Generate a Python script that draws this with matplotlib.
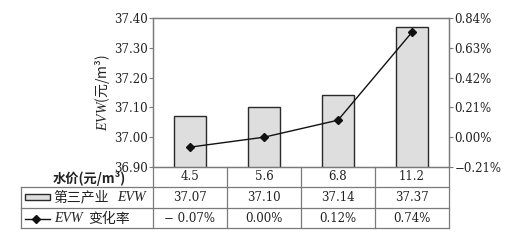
import matplotlib
matplotlib.use("Agg")
import matplotlib.pyplot as plt
from matplotlib.patches import Rectangle
from matplotlib.lines import Line2D
from matplotlib.ticker import FixedLocator, FuncFormatter

# ---- data ----
prices = ["4.5", "5.6", "6.8", "11.2"]
evw = [37.07, 37.10, 37.14, 37.37]
rate = [-0.07, 0.00, 0.12, 0.74]
left_ticks = [36.90, 37.00, 37.10, 37.20, 37.30, 37.40]
right_ticks = [-0.21, 0.00, 0.21, 0.42, 0.63, 0.84]
row_header = "水价(元/m³)"
bar_label = "第三产业"
line_label = "变化率"
y_label = "$EVW$(元/m³)"

plt.rcParams["mathtext.fontset"] = "custom"
plt.rcParams["mathtext.it"] = "Liberation Serif:italic"
plt.rcParams["mathtext.rm"] = "Liberation Serif"

W, H = 519, 244
fig = plt.figure(figsize=(W / 100, H / 100), dpi=100)

def fx(px):
    return px / W

def fy(py):
    return 1 - py / H

NUM = "DejaVu Serif"
ITAL = "Liberation Serif"
CJK = ["Noto Sans CJK SC", "DejaVu Sans"]
GRID = "#7a7a7a"
TXT = "#222222"

L, R, T, B = 153, 449, 18, 167
ax = fig.add_axes([fx(L), fy(B), fx(R) - fx(L), fy(T) - fy(B)])
x = list(range(len(prices)))
ax.bar(x, evw, width=0.42, bottom=0, color="#dedede", edgecolor="#2a2a2a", linewidth=1.0, zorder=2)
ax.set_xlim(-0.5, len(prices) - 0.5)
ax.set_ylim(left_ticks[0], left_ticks[-1])
ax.yaxis.set_major_locator(FixedLocator(left_ticks))
ax.yaxis.set_major_formatter(FuncFormatter(lambda v, p: f"{v:.2f}"))
ax.set_xticks([])
ax.tick_params(axis="y", direction="out", length=3, width=0.8, color=GRID, pad=1,
               labelsize=8.5, labelcolor=TXT)
for lab in ax.get_yticklabels():
    lab.set_fontfamily(NUM)
for s in ax.spines.values():
    s.set_color(GRID)
    s.set_linewidth(0.9)
fig.text(fx(102), fy(93), y_label, rotation=90, ha="center", va="center",
         fontsize=10, family=CJK, color=TXT)

ax2 = ax.twinx()
ax2.plot(x, rate, color="#111111", linewidth=1.0, marker="D", markersize=4.5, zorder=3)
ax2.set_ylim(right_ticks[0], right_ticks[-1])
ax2.yaxis.set_major_locator(FixedLocator(right_ticks))
ax2.yaxis.set_major_formatter(FuncFormatter(lambda v, p: f"{v:.2f}%".replace("-", "−")))
ax2.tick_params(axis="y", direction="out", length=3, width=0.8, color=GRID, pad=1,
                labelsize=8.5, labelcolor=TXT)
for lab in ax2.get_yticklabels():
    lab.set_fontfamily(NUM)
for s in ax2.spines.values():
    s.set_color(GRID)
    s.set_linewidth(0.9)

# ---- table ----
rows = [167, 187, 208, 228]
tbl_left = 21
lc = dict(color=GRID, linewidth=0.9, transform=fig.transFigure)
for py in rows[1:]:
    fig.add_artist(Line2D([fx(tbl_left), fx(R)], [fy(py), fy(py)], **lc))
fig.add_artist(Line2D([fx(tbl_left), fx(tbl_left)], [fy(rows[1]), fy(rows[3])], **lc))

def colx(v):
    return fig.transFigure.inverted().transform(ax.transData.transform((v, left_ticks[0])))[0]

for i in range(len(prices) + 1):
    xf = colx(i - 0.5)
    fig.add_artist(Line2D([xf, xf], [fy(rows[0]), fy(rows[3])], **lc))

for i in x:
    cx = colx(i)
    fig.text(cx, fy(177), prices[i], ha="center", va="center", fontsize=8.5, family=NUM, color=TXT)
    fig.text(cx, fy(197.5), f"{evw[i]:.2f}", ha="center", va="center", fontsize=8.5, family=NUM, color=TXT)
    fig.text(cx, fy(218.5), f"{rate[i]:.2f}%".replace("-", "− "), ha="center", va="center",
             fontsize=8.5, family=NUM, color=TXT)

fig.text(fx(89), fy(179), row_header, ha="center", va="center", fontsize=9.5, family=CJK,
         fontweight="bold", color=TXT)
# legend symbols in the table
fig.add_artist(Rectangle((fx(25), fy(200)), fx(50) - fx(25), fy(194) - fy(200),
                         facecolor="#dedede", edgecolor="#2a2a2a", linewidth=1.0,
                         transform=fig.transFigure))
fig.text(fx(53), fy(197.5), bar_label, ha="left", va="center", fontsize=10, family=CJK, color=TXT)
fig.text(fx(117), fy(197.5), "EVW", ha="left", va="center", fontsize=10, family=ITAL,
         style="italic", color=TXT)
fig.add_artist(Line2D([fx(25), fx(50)], [fy(218.5), fy(218.5)], color="#111111", linewidth=1.0,
                      transform=fig.transFigure))
fig.add_artist(Line2D([fx(36)], [fy(218.5)], color="#111111", marker="D", markersize=4.5,
                      linestyle="none", transform=fig.transFigure))
fig.text(fx(54), fy(218.5), "EVW", ha="left", va="center", fontsize=10, family=ITAL,
         style="italic", color=TXT)
fig.text(fx(88), fy(218.5), line_label, ha="left", va="center", fontsize=10, family=CJK, color=TXT)

fig.savefig("out.png", dpi=100, facecolor="white")
